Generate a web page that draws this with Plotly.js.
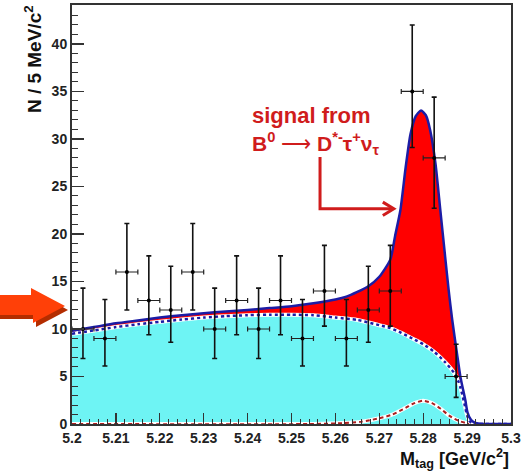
<!DOCTYPE html>
<html>
<head>
<meta charset="utf-8">
<script src="https://cdn.plot.ly/plotly-3.0.1.min.js"></script>
<style>html,body{margin:0;padding:0;background:#fff;}#chart{width:522px;height:472px;}</style>
</head>
<body>
<div id="chart"></div>
<script>
// ---- data ----
const binCenters = [5.2025,5.2075,5.2125,5.2175,5.2225,5.2275,5.2325,5.2375,5.2425,5.2475,5.2525,5.2575,5.2625,5.2675,5.2725,5.2775,5.2825,5.2875];
const counts     = [10,9,16,13,12,16,10,13,10,13,9,14,9,12,14,35,28,5];
const errHigh    = [4.3,4.1,5.1,4.7,4.6,5.1,4.3,4.7,4.3,4.7,4.1,4.8,4.1,4.6,4.8,7.0,6.4,3.4];
const errLow     = [3.1,2.9,4.0,3.6,3.4,4.0,3.1,3.6,3.1,3.6,2.9,3.7,2.9,3.4,3.7,5.9,5.3,2.2];
const binHalfWidth = 0.0025;

// background fit (cyan)
const bgX = [5.200,5.205,5.210,5.215,5.220,5.225,5.230,5.235,5.240,5.245,5.250,5.255,5.260,5.265,5.270,5.2725,5.275,5.2775,5.280,5.2825,5.285,5.287,5.288,5.2885,5.289,5.2895,5.290,5.2905,5.291,5.292,5.293,5.300];
const bgY = [9.5,9.85,10.2,10.5,10.75,11.0,11.2,11.35,11.45,11.5,11.5,11.45,11.2,10.95,10.4,10.1,9.6,9.0,8.4,7.6,6.5,5.4,4.5,3.8,2.9,1.9,0.9,0.35,0.12,0.03,0,0];

// total fit (signal + background)
const totX = [5.200,5.205,5.210,5.215,5.220,5.225,5.230,5.235,5.240,5.245,5.250,5.255,5.260,5.2625,5.265,5.2675,5.270,5.2725,5.2736,5.2748,5.2760,5.2771,5.2783,5.2795,5.2806,5.2816,5.2828,5.2839,5.2850,5.2858,5.2866,5.2877,5.2885,5.2896,5.2901,5.2908,5.2915,5.2925,5.294,5.300];
const totY = [9.8,10.2,10.6,10.9,11.2,11.45,11.65,11.85,12.0,12.2,12.4,12.7,13.1,13.4,13.9,14.5,15.5,17.3,19.8,22.5,27.0,30.5,32.4,33.0,32.5,30.9,27.4,22.5,17.6,14.1,11.0,7.4,4.9,2.5,1.2,0.5,0.2,0.05,0,0];

// peaking component (red dashed)
const pkX = [5.200,5.255,5.262,5.266,5.270,5.273,5.276,5.278,5.280,5.282,5.284,5.286,5.288,5.290,5.292,5.300];
const pkY = [0,0,0.1,0.25,0.6,1.0,1.7,2.2,2.45,2.2,1.6,0.85,0.35,0.08,0,0];

const xTickVals = [5.2,5.21,5.22,5.23,5.24,5.25,5.26,5.27,5.28,5.29,5.3];
const xTickText = ["5.2","5.21","5.22","5.23","5.24","5.25","5.26","5.27","5.28","5.29","5.3"];
const yTickVals = [0,5,10,15,20,25,30,35,40];
const yTickText = ["0","5","10","15","20","25","30","35","40"];

// ---- styling ----
const FONT = "Liberation Sans, Arial, Helvetica, sans-serif";
const CYAN = "rgb(110,244,244)";
const RED = "#ff0000";
const BLUE = "rgb(28,28,165)";
const TXTRED = "rgb(208,28,28)";

const traces = [
  {x: bgX, y: bgY, mode: 'lines', line: {width: 0, shape: 'spline', smoothing: 0.6}, fill: 'tozeroy', fillcolor: CYAN, hoverinfo: 'skip', showlegend: false},
  {x: totX, y: totY, mode: 'lines', line: {width: 0, shape: 'spline', smoothing: 0.6}, fill: 'tonexty', fillcolor: RED, hoverinfo: 'skip', showlegend: false},
  // peaking component outline
  {x: pkX, y: pkY, mode: 'lines', line: {color: '#ffffff', width: 4, shape: 'spline', smoothing: 0.6}, hoverinfo: 'skip', showlegend: false},
  {x: pkX, y: pkY, mode: 'lines', line: {color: 'rgb(170,30,30)', width: 2, dash: '4px,3px', shape: 'spline', smoothing: 0.6}, hoverinfo: 'skip', showlegend: false},
  // background outline
  {x: bgX, y: bgY, mode: 'lines', line: {color: '#ffffff', width: 4, shape: 'spline', smoothing: 0.6}, hoverinfo: 'skip', showlegend: false},
  {x: bgX, y: bgY, mode: 'lines', line: {color: BLUE, width: 2.5, dash: '3px,3px', shape: 'spline', smoothing: 0.6}, hoverinfo: 'skip', showlegend: false},
  // total
  {x: totX, y: totY, mode: 'lines', line: {color: BLUE, width: 2.5, shape: 'spline', smoothing: 0.6}, hoverinfo: 'skip', showlegend: false},
  // data
  {x: binCenters, y: counts, mode: 'markers', marker: {color: '#000', size: 4},
   error_y: {type: 'data', symmetric: false, array: errHigh, arrayminus: errLow, color: '#111', thickness: 1.6, width: 2.5},
   error_x: {type: 'constant', value: binHalfWidth, color: '#222', thickness: 1.2, width: 2.5},
   showlegend: false}
];

const layout = {
  width: 522, height: 472,
  margin: {l: 72, r: 11, t: 5, b: 48, pad: 0},
  paper_bgcolor: '#fff', plot_bgcolor: '#fff',
  font: {family: FONT, color: '#111'},
  showlegend: false,
  xaxis: {
    range: [5.2, 5.3], tickvals: xTickVals, ticktext: xTickText,
    ticks: 'inside', ticklen: 11, tickwidth: 1.2, tickcolor: '#333',
    minor: {ticks: 'inside', ticklen: 5, tickwidth: 1, tickcolor: '#333', dtick: 0.002, tick0: 5.2, showgrid: false},
    showline: true, linecolor: '#333', linewidth: 2, mirror: true,
    showgrid: false, zeroline: false,
    tickfont: {family: FONT, size: 14, weight: 'bold', color: '#222'}
  },
  yaxis: {
    range: [0, 44.1], tickvals: yTickVals, ticktext: yTickText,
    ticks: 'inside', ticklen: 12, tickwidth: 1.2, tickcolor: '#333',
    minor: {ticks: 'inside', ticklen: 6, tickwidth: 1, tickcolor: '#333', dtick: 1, tick0: 0, showgrid: false},
    showline: true, linecolor: '#333', linewidth: 2, mirror: true,
    showgrid: false, zeroline: false,
    tickfont: {family: FONT, size: 14, weight: 'bold', color: '#222'}
  },
  annotations: [
    {xref: 'paper', yref: 'paper', x: -0.09, y: 0.872, xanchor: 'center', yanchor: 'middle', textangle: -90,
     text: 'N / 5 MeV/c<sup>2</sup>', showarrow: false, font: {family: FONT, size: 19, weight: 'bold', color: '#111'}},
    {xref: 'paper', yref: 'paper', x: 1.0, y: -0.083, xanchor: 'right', yanchor: 'middle',
     text: 'M<sub>tag</sub> [GeV/c<sup>2</sup>]', showarrow: false, font: {family: FONT, size: 18, weight: 'bold', color: '#111'}},
    {xref: 'x', yref: 'y', x: 5.2406, y: 32.5, xanchor: 'left', yanchor: 'middle',
     text: 'signal from', showarrow: false, font: {family: FONT, size: 22, weight: 'bold', color: TXTRED}},
    {xref: 'x', yref: 'y', x: 5.2406, y: 29.5, xanchor: 'left', yanchor: 'middle',
     text: 'B<sup>0</sup> <span style="font-weight:normal">⟶</span> D<sup>*-</sup>τ<sup>+</sup>ν<sub>τ</sub>', showarrow: false, font: {family: FONT, size: 21, weight: 'bold', color: TXTRED}}
  ],
  shapes: [
    // red bent pointer
    {type: 'path', xref: 'x', yref: 'y', path: 'M 5.2565,28.1 L 5.2565,22.65 L 5.2731,22.65', line: {color: TXTRED, width: 3}},
    {type: 'path', xref: 'x', yref: 'y', path: 'M 5.2708,23.35 L 5.2733,22.65 L 5.2708,21.95', line: {color: TXTRED, width: 3}},
    // orange block arrow (shadow then body), pixel offsets from plot's bottom-left corner
    {type: 'path', xref: 'paper', yref: 'paper', xsizemode: 'pixel', ysizemode: 'pixel', xanchor: 0, yanchor: 0,
     path: 'M -72,105 L -36,105 L -36,97 L -4,114 L -36,132 L -36,125 L -72,125 Z',
     fillcolor: 'rgb(180,45,0)', line: {width: 0}},
    {type: 'path', xref: 'paper', yref: 'paper', xsizemode: 'pixel', ysizemode: 'pixel', xanchor: 0, yanchor: 0,
     path: 'M -72,109 L -39,109 L -39,101 L -7,118 L -41,136 L -41,129 L -72,129 Z',
     fillcolor: 'rgb(255,64,8)', line: {width: 0}}
  ]
};

Plotly.newPlot('chart', traces, layout, {staticPlot: true, displayModeBar: false});
</script>
</body>
</html>
